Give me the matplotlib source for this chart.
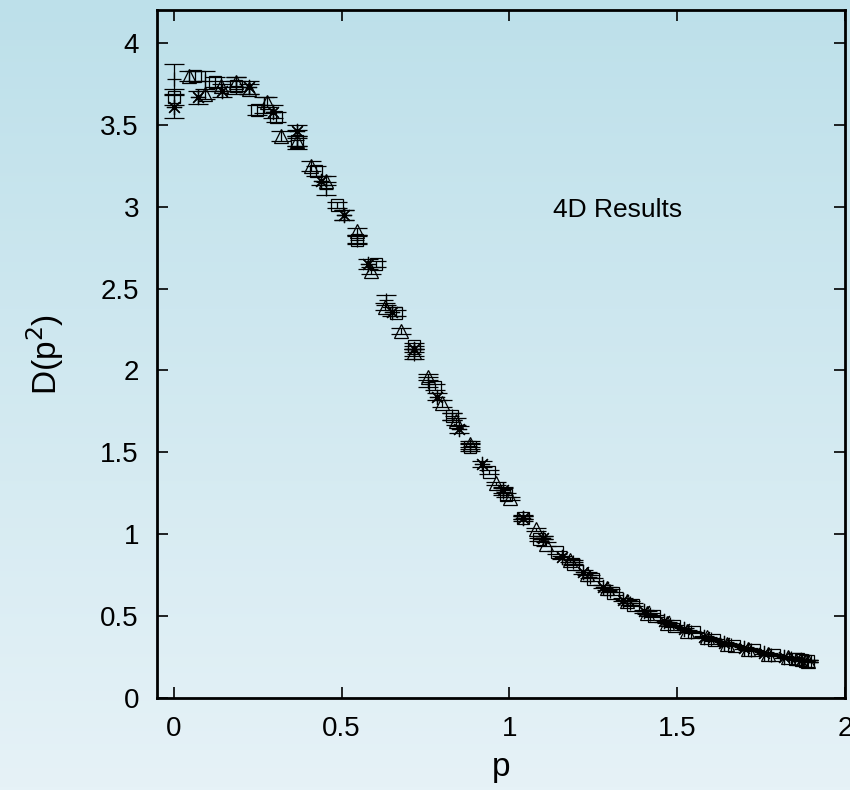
import numpy as np
import matplotlib
matplotlib.use('Agg')
import matplotlib.pyplot as plt
from matplotlib.colors import LinearSegmentedColormap

plt.rcParams['font.family'] = ['Liberation Sans', 'DejaVu Sans']

# series 1: '+' points
p_plus = [0.000, 0.092, 0.185, 0.270, 0.366, 0.455, 0.506, 0.545, 0.632, 0.717,
          0.759, 0.830, 0.884, 0.980, 1.042, 1.100, 1.190, 1.240, 1.300, 1.360,
          1.420, 1.480, 1.540, 1.600, 1.660, 1.720, 1.780, 1.840, 1.890]
d_plus = [3.78, 3.77, 3.74, 3.62, 3.41, 3.11, 2.95, 2.80, 2.43, 2.10,
          1.93, 1.72, 1.54, 1.26, 1.10, 0.98, 0.83, 0.74, 0.655, 0.58,
          0.51, 0.45, 0.405, 0.36, 0.325, 0.295, 0.265, 0.245, 0.225]
e_plus = [0.09, 0.06, 0.05, 0.05, 0.06, 0.04, 0.03, 0.03, 0.03, 0.03,
          0.03, 0.02, 0.02, 0.02, 0.02, 0.01, 0.01, 0.01, 0.01, 0.01,
          0.01, 0.01, 0.005, 0.005, 0.005, 0.005, 0.005, 0.005, 0.005]

# series 2: asterisks
p_star = [0.000, 0.071, 0.143, 0.223, 0.295, 0.366, 0.440, 0.506, 0.578, 0.649,
          0.717, 0.783, 0.851, 0.920, 0.980, 1.042, 1.100, 1.158, 1.220, 1.280,
          1.340, 1.400, 1.460, 1.520, 1.580, 1.640, 1.700, 1.760, 1.820, 1.870]
d_star = [3.61, 3.67, 3.71, 3.73, 3.58, 3.46, 3.16, 2.95, 2.65, 2.36,
          2.13, 1.84, 1.64, 1.43, 1.27, 1.10, 0.98, 0.86, 0.77, 0.68,
          0.60, 0.53, 0.47, 0.42, 0.375, 0.335, 0.305, 0.275, 0.25, 0.232]
e_star = [0.07, 0.04, 0.04, 0.04, 0.04, 0.04, 0.03, 0.03, 0.03, 0.03,
          0.02, 0.02, 0.02, 0.02, 0.02, 0.01, 0.01, 0.01, 0.01, 0.01,
          0.01, 0.01, 0.005, 0.005, 0.005, 0.005, 0.005, 0.005, 0.005, 0.005]

# series 3: open squares
p_sq = [0.000, 0.063, 0.122, 0.185, 0.247, 0.306, 0.366, 0.425, 0.485, 0.545,
        0.604, 0.661, 0.717, 0.777, 0.830, 0.884, 0.938, 0.990, 1.042, 1.089,
        1.143, 1.190, 1.250, 1.310, 1.370, 1.430, 1.490, 1.550, 1.610, 1.670,
        1.730, 1.790, 1.850, 1.860, 1.870, 1.880, 1.890]
d_sq = [3.67, 3.80, 3.76, 3.74, 3.59, 3.55, 3.40, 3.22, 3.01, 2.80,
        2.65, 2.35, 2.15, 1.90, 1.72, 1.53, 1.38, 1.24, 1.10, 0.97,
        0.89, 0.82, 0.725, 0.64, 0.57, 0.50, 0.44, 0.40, 0.355, 0.32,
        0.29, 0.262, 0.24, 0.236, 0.232, 0.228, 0.224]
e_sq = [0.05, 0.03, 0.03, 0.03, 0.03, 0.03, 0.03, 0.03, 0.02, 0.02,
        0.02, 0.02, 0.02, 0.02, 0.02, 0.02, 0.01, 0.01, 0.01, 0.01,
        0.01, 0.01, 0.01, 0.01, 0.01, 0.005, 0.005, 0.005, 0.005, 0.005,
        0.005, 0.005, 0.005, 0.005, 0.005, 0.005, 0.005]

# series 4: open triangles
p_tri = [0.045, 0.092, 0.140, 0.185, 0.223, 0.277, 0.321, 0.366, 0.410, 0.455,
         0.545, 0.589, 0.628, 0.676, 0.717, 0.759, 0.800, 0.842, 0.884, 0.961,
         1.003, 1.080, 1.110, 1.180, 1.230, 1.290, 1.350, 1.410, 1.470, 1.530,
         1.590, 1.650, 1.710, 1.770, 1.830, 1.890]
d_tri = [3.80, 3.69, 3.74, 3.76, 3.72, 3.64, 3.43, 3.40, 3.25, 3.16,
         2.85, 2.61, 2.39, 2.24, 2.11, 1.96, 1.80, 1.69, 1.55, 1.31,
         1.22, 1.03, 0.94, 0.84, 0.76, 0.67, 0.59, 0.52, 0.46, 0.41,
         0.37, 0.33, 0.30, 0.27, 0.248, 0.226]
e_tri = [0.03, 0.03, 0.03, 0.03, 0.03, 0.03, 0.03, 0.03, 0.03, 0.03,
         0.02, 0.02, 0.02, 0.02, 0.02, 0.02, 0.02, 0.02, 0.02, 0.01,
         0.01, 0.01, 0.01, 0.01, 0.01, 0.01, 0.01, 0.01, 0.005, 0.005,
         0.005, 0.005, 0.005, 0.005, 0.005, 0.005]

fig = plt.figure(figsize=(8.5, 7.9), dpi=100)

# gradient background over the whole figure
bg = fig.add_axes([0, 0, 1, 1], zorder=-10)
grad = LinearSegmentedColormap.from_list('bg', ['#bde0ea', '#e6f2f7'])
bg.imshow(np.linspace(0, 1, 256).reshape(-1, 1), aspect='auto', cmap=grad,
          extent=[0, 1, 0, 1], origin='upper')
bg.axis('off')

ax = fig.add_axes([0.1847, 0.1165, 0.8093, 0.8705])
ax.set_facecolor('none')

kw = dict(linestyle='none', color='black', ecolor='black', elinewidth=0.9,
          capsize=7, capthick=0.9, markerfacecolor='none',
          markeredgecolor='black', markeredgewidth=0.9)
ax.errorbar(p_plus, d_plus, yerr=e_plus, marker='+', markersize=10, **kw)
ax.errorbar(p_star, d_star, yerr=e_star, marker=(8, 2, 0), markersize=11, **kw)
ax.errorbar(p_sq, d_sq, yerr=e_sq, marker='s', markersize=9, **kw)
ax.errorbar(p_tri, d_tri, yerr=e_tri, marker='^', markersize=10, **kw)

ax.text(1.13, 2.98, '4D Results', fontsize=19, ha='left', va='center')

ax.set_xlim(-0.05, 2.0)
ax.set_ylim(0, 4.2)
ax.set_xticks([0, 0.5, 1, 1.5, 2])
ax.set_xticklabels(['0', '0.5', '1', '1.5', '2'])
ax.set_yticks([0, 0.5, 1, 1.5, 2, 2.5, 3, 3.5, 4])
ax.set_yticklabels(['0', '0.5', '1', '1.5', '2', '2.5', '3', '3.5', '4'])
ax.tick_params(direction='in', length=8, width=1.2, top=True, right=True,
               labelsize=20, pad=13)
for s in ax.spines.values():
    s.set_linewidth(2)

ax.set_xlabel('p', fontsize=24, labelpad=7)
ax.set_ylabel('D(p$^2$)', fontsize=24, labelpad=25)

fig.savefig('out.png', dpi=100)
